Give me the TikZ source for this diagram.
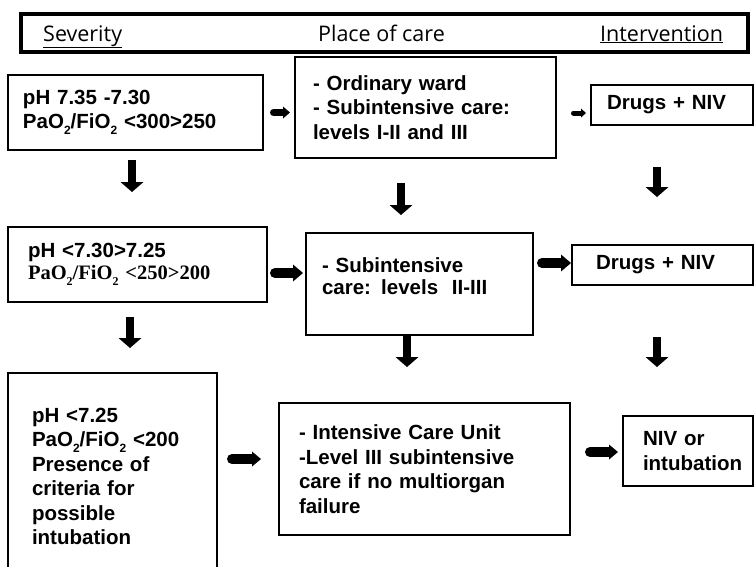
\documentclass[tikz,border=0pt]{standalone}
\usepackage{fontspec}
\setmainfont{Liberation Sans}
\newfontfamily\timesf{Liberation Serif}
\newfontfamily\hdrf{Open Sans}
\usetikzlibrary{arrows.meta}
\newcommand\sbt[1]{\raisebox{-0.3em}{\fontsize{12pt}{12pt}\selectfont #1}}
\newcommand\hdrul[1]{\leavevmode\vtop{\hbox{#1}\kern0.6pt\hrule height 1.3pt}}
\begin{document}
\begin{tikzpicture}[x=1pt,y=-1pt,
  box/.style={draw=black, line width=2.6pt, rectangle, outer sep=0pt,
    inner ysep=0pt, anchor=north west, align=left,
    font=\fontsize{20.5pt}{24.5pt}\selectfont\bfseries},
  boxtight/.style={box, font=\fontsize{20.5pt}{22pt}\selectfont\bfseries},
  hdrtext/.style={inner sep=0pt, font=\hdrf\fontsize{21.5pt}{24pt}\selectfont},
  darrow/.style={line width=8pt, -{Triangle[width=23pt,length=10pt,line width=0pt]}},
  harrow/.style n args={3}{line width=#1, line cap=round,
    -{Triangle[width=#2,length=#3,line width=0pt]}}
]
\useasboundingbox (0,0) rectangle (755,566);

% header
\node[draw=black, line width=3.3pt, rectangle, outer sep=0pt, anchor=north west,
  minimum width=727pt, minimum height=38pt] (hdr) at (21,14) {};
\node[hdrtext, anchor=base west] (hsev) at (43,41) {\hdrul{Severity}};
\node[hdrtext, anchor=base] (hplace) at (381.5,41) {Place of care};
\node[hdrtext, anchor=base west] (hint) at (600,41) {\hdrul{Intervention}};

% row 1
\node[box, minimum width=255pt, minimum height=75pt, text width=225pt] (S1) at (8,75)
  {pH 7.35 -7.30\\PaO\sbt{2}/FiO\sbt{2} <300>250};
\node[box, minimum width=261pt, minimum height=101pt, text width=225pt] (P1) at (295,57)
  {- Ordinary ward\\- Subintensive care:\\levels I-II and III};
\node[box, minimum width=162pt, minimum height=40pt, text width=130pt] (I1) at (591,85)
  {Drugs + NIV};

% row 2
\node[boxtight, minimum width=259pt, minimum height=75pt, text width=219pt] (S2) at (8,227)
  {pH <7.30>7.25\\{\timesf\bfseries PaO\sbt{2}/FiO\sbt{2} <250>200}};
\node[boxtight, minimum width=227pt, minimum height=102pt, text width=195pt] (P2) at (306,233)
  {- Subintensive\\care: levels\ \ II-III\rule[-16pt]{0pt}{16pt}};
\node[box, minimum width=181pt, minimum height=40pt, text width=133pt] (I2) at (572,245)
  {Drugs + NIV};

% row 3
\node[box, minimum width=209pt, minimum height=207pt, text width=161pt] (S3) at (8,373)
  {pH <7.25\\PaO\sbt{2}/FiO\sbt{2} <200\\Presence of\\criteria for\\possible\\intubation};
\node[box, minimum width=291pt, minimum height=132pt, text width=251pt] (P3) at (279,403)
  {- Intensive Care Unit\\-Level III subintensive\\care if no multiorgan\\failure};
\node[box, minimum width=130pt, minimum height=70pt, text width=110pt] (I3) at (623,416)
  {\hspace*{10pt}NIV or\\\hspace*{10pt}intubation};

% horizontal arrows
\draw[harrow={7pt}{12pt}{7pt}, shorten <=10.5pt, shorten >=5pt]
  (S1.east) -- (S1.east -| P1.west);
\draw[harrow={5pt}{9pt}{5pt}, shorten <=17.5pt, shorten >=5pt]
  ([yshift=-5.5pt]P1.east) -- ([yshift=-5.5pt]P1.east -| I1.west);
\draw[harrow={10pt}{17pt}{10pt}, shorten <=8pt, shorten >=3pt]
  ([yshift=-8.5pt]S2.east) -- ([yshift=-8.5pt]S2.east -| P2.west);
\draw[harrow={10pt}{17pt}{10pt}, shorten <=9pt, shorten >=1pt]
  ([yshift=21pt]P2.east) -- ([yshift=21pt]P2.east -| I2.west);
\draw[harrow={10pt}{15pt}{9pt}, shorten <=15pt, shorten >=18pt]
  ([yshift=17.5pt]S3.east) -- ([yshift=17.5pt]S3.east -| P3.west);
\draw[harrow={10pt}{15pt}{9pt}, shorten <=20pt, shorten >=5pt]
  ([yshift=17pt]P3.east) -- ([yshift=17pt]P3.east -| I3.west);

% vertical arrows
\draw[darrow, shorten <=10pt, shorten >=35pt]
  ([xshift=-3.5pt]S1.south) -- ([xshift=-3.5pt]S1.south |- S2.north);
\draw[darrow, shorten <=25pt, shorten >=18pt]
  ([xshift=-24.5pt]P1.south) -- ([xshift=-24.5pt]P1.south |- P2.north);
\draw[darrow, shorten <=42pt, shorten >=48pt]
  ([xshift=-15pt]I1.south) -- ([xshift=-15pt]I1.south |- I2.north);
\draw[darrow, shorten <=15pt, shorten >=25pt]
  ([xshift=-7.5pt]S2.south) -- ([xshift=-7.5pt]S2.south |- S3.north);
\draw[darrow, shorten <=0.5pt, shorten >=36pt]
  ([xshift=-12.5pt]P2.south) -- ([xshift=-12.5pt]P2.south |- P3.north);
\draw[darrow, shorten <=52pt, shorten >=49pt]
  ([xshift=-5.5pt]I2.south) -- ([xshift=-5.5pt]I2.south |- I3.north);
\end{tikzpicture}
\end{document}
